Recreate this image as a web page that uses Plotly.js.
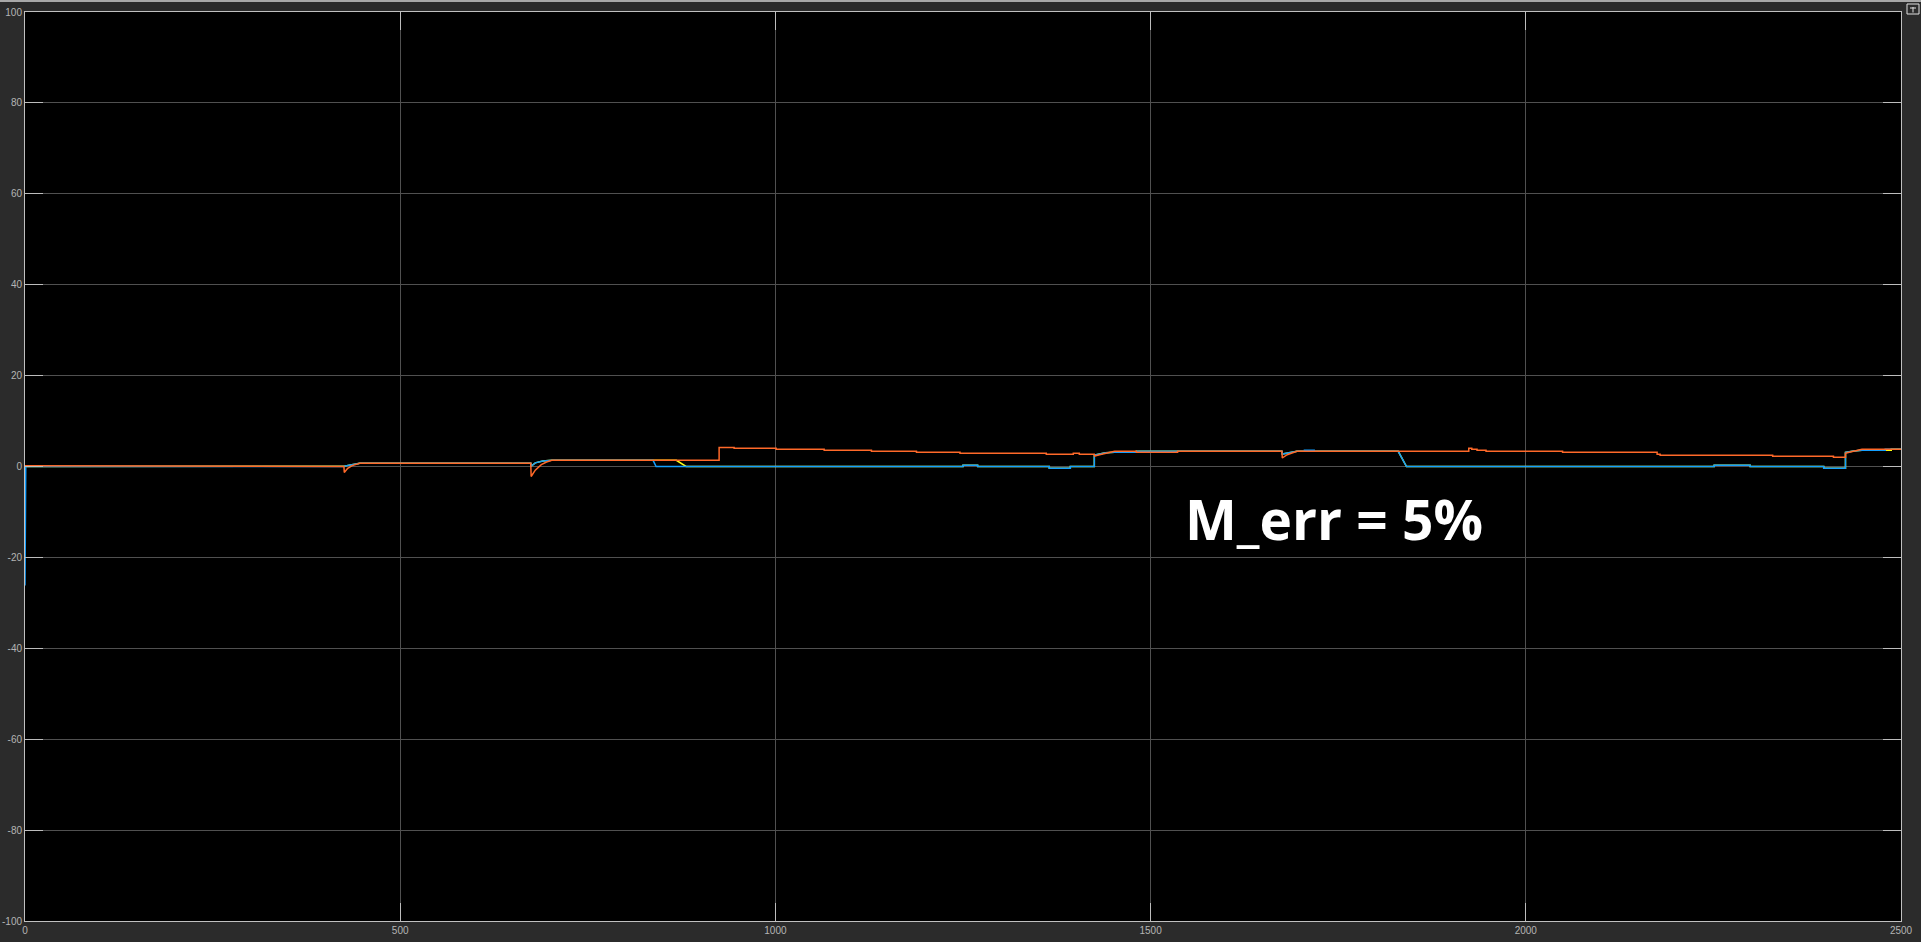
<!DOCTYPE html>
<html>
<head>
<meta charset="utf-8">
<script src="https://cdn.plot.ly/plotly-3.0.1.min.js"></script>
<style>
html,body{margin:0;padding:0;background:#2b2b2b;overflow:hidden;}
#chart{width:1921px;height:942px;}
</style>
</head>
<body>
<div id="chart"></div>
<script>
// ---- data ----
var xTicks = [0, 500, 1000, 1500, 2000, 2500];
var yTicks = [-100, -80, -60, -40, -20, 0, 20, 40, 60, 80, 100];

var orangeX = [0, 349, 349, 425, 425.5, 430, 436, 446, 674, 674.5, 680, 688, 695, 702, 925, 925, 945, 945, 1001, 1001, 1065, 1065, 1128, 1128, 1188, 1188, 1246, 1246, 1361, 1361, 1397, 1397, 1405, 1405, 1425, 1425.5, 1432, 1440, 1452, 1481, 1481, 1536, 1536, 1675, 1675.5, 1682, 1688, 1695, 1924, 1924, 1928, 1928, 1935, 1935, 1947, 1947, 2049, 2049, 2175, 2175, 2179, 2179, 2329, 2329, 2410, 2410, 2426, 2426, 2431, 2437, 2448, 2500];
var orangeY = [0.15, 0.15, 0, 0, -1.3, -0.4, 0.2, 0.7, 0.7, -2.2, -0.8, 0.4, 1.0, 1.36, 1.36, 4.2, 4.2, 4.0, 4.0, 3.78, 3.78, 3.56, 3.56, 3.34, 3.34, 3.12, 3.12, 2.9, 2.9, 2.68, 2.68, 2.9, 2.9, 2.68, 2.68, 2.3, 2.6, 2.9, 3.34, 3.34, 3.12, 3.12, 3.34, 3.34, 1.87, 2.6, 3.0, 3.34, 3.34, 4.0, 4.0, 3.78, 3.78, 3.56, 3.56, 3.34, 3.34, 3.12, 3.12, 2.68, 2.68, 2.46, 2.46, 2.24, 2.24, 2.02, 2.02, 2.9, 3.12, 3.34, 3.78, 3.78];

var blueX = [0, 1, 425, 425.5, 432, 440, 446, 674, 674.5, 680, 690, 702, 837, 841, 1250, 1250, 1269.5, 1269.5, 1365, 1365, 1393, 1393, 1425, 1425, 1432, 1440, 1452, 1481, 1481, 1675, 1675.5, 1682, 1688, 1695, 1705, 1705, 1718, 1718, 1830, 1841, 2251, 2251, 2299, 2299, 2397, 2397, 2426, 2426, 2437, 2448, 2479, 2479, 2500];
var blueY = [-26.2, 0, 0, 0.05, 0.3, 0.6, 0.7, 0.7, 0.05, 0.8, 1.2, 1.36, 1.36, 0, 0, 0.25, 0.25, 0, 0, -0.4, -0.4, 0, 0, 2.5, 2.7, 3.0, 3.12, 3.12, 3.34, 3.34, 2.75, 3.0, 3.2, 3.34, 3.34, 3.56, 3.56, 3.34, 3.34, 0, 0, 0.25, 0.25, 0, 0, -0.4, -0.4, 3.12, 3.4, 3.6, 3.6, 3.78, 3.78];

var yellowX = [0, 425, 425.5, 432, 440, 446, 674, 674.5, 680, 690, 702, 868, 881, 1250, 1250, 1269.5, 1269.5, 1365, 1365, 1393, 1393, 1425, 1425, 1432, 1440, 1452, 1481, 1481, 1675, 1675.5, 1682, 1688, 1695, 1830, 1841, 2251, 2251, 2299, 2299, 2397, 2397, 2426, 2426, 2437, 2448, 2487, 2487, 2500];
var yellowY = [0, 0, 0.05, 0.3, 0.6, 0.7, 0.7, 0.05, 0.8, 1.2, 1.36, 1.36, 0, 0, 0.25, 0.25, 0, 0, -0.4, -0.4, 0, 0, 2.5, 2.7, 3.0, 3.12, 3.12, 3.34, 3.34, 2.75, 3.0, 3.2, 3.34, 3.34, 0, 0, 0.25, 0.25, 0, 0, -0.4, -0.4, 3.12, 3.4, 3.6, 3.6, 3.78, 3.78];

var annotationText = 'M_err = 5%';

var traces = [
  {x: yellowX, y: yellowY, mode: 'lines', line: {color: '#ffff11', width: 1.5}, hoverinfo: 'none'},
  {x: blueX, y: blueY, mode: 'lines', line: {color: '#139fff', width: 1.5}, hoverinfo: 'none'},
  {x: orangeX, y: orangeY, mode: 'lines', line: {color: '#ff6929', width: 1.5}, hoverinfo: 'none'}
];

var axisCommon = {
  showline: true, linecolor: '#c0c0c0', linewidth: 1, mirror: 'ticks',
  ticks: 'inside', ticklen: 18, tickwidth: 1, tickcolor: '#bdbdbd',
  showgrid: true, gridcolor: '#505050', gridwidth: 1,
  zeroline: false,
  tickfont: {family: 'Liberation Sans, Arial, sans-serif', size: 10, color: '#b4b4b4'}
};

var layout = {
  width: 1921, height: 942,
  paper_bgcolor: '#2b2b2b', plot_bgcolor: '#000000',
  margin: {l: 25, r: 20, t: 12, b: 21, pad: 0},
  showlegend: false,
  xaxis: Object.assign({}, axisCommon, {range: [0, 2500], tickvals: xTicks, ticktext: xTicks.map(String)}),
  yaxis: Object.assign({}, axisCommon, {range: [-100, 100], tickvals: yTicks, ticktext: yTicks.map(String)}),
  annotations: [{
    text: '<b>' + annotationText + '</b>',
    x: 1745, y: -11.5, xref: 'x', yref: 'y',
    xanchor: 'center', yanchor: 'middle', showarrow: false,
    font: {family: 'Open Sans, sans-serif', size: 55, color: '#ffffff'}
  }],
  shapes: [
    {type: 'rect', xref: 'paper', yref: 'paper', x0: -0.02, x1: 1.02, y0: 1 + 10/909, y1: 1 + 12/909,
     fillcolor: '#a8a8a8', line: {width: 0}, layer: 'above'},
    {type: 'rect', xref: 'paper', yref: 'paper', x0: (1907-25)/1876, x1: (1919-25)/1876, y0: 1 - 2/909, y1: 1 + 8/909,
     fillcolor: 'rgba(0,0,0,0)', line: {color: '#e0e0e0', width: 1}, layer: 'above'},
    {type: 'line', xref: 'paper', yref: 'paper', x0: (1913-25)/1876, x1: (1913-25)/1876, y0: 1 - 0.5/909, y1: 1 + 5/909,
     line: {color: '#e0e0e0', width: 1}, layer: 'above'},
    {type: 'line', xref: 'paper', yref: 'paper', x0: (1910-25)/1876, x1: (1916-25)/1876, y0: 1 + 4/909, y1: 1 + 4/909,
     line: {color: '#e0e0e0', width: 1}, layer: 'above'}
  ]
};

Plotly.newPlot('chart', traces, layout, {staticPlot: true, displayModeBar: false});
</script>
</body>
</html>
